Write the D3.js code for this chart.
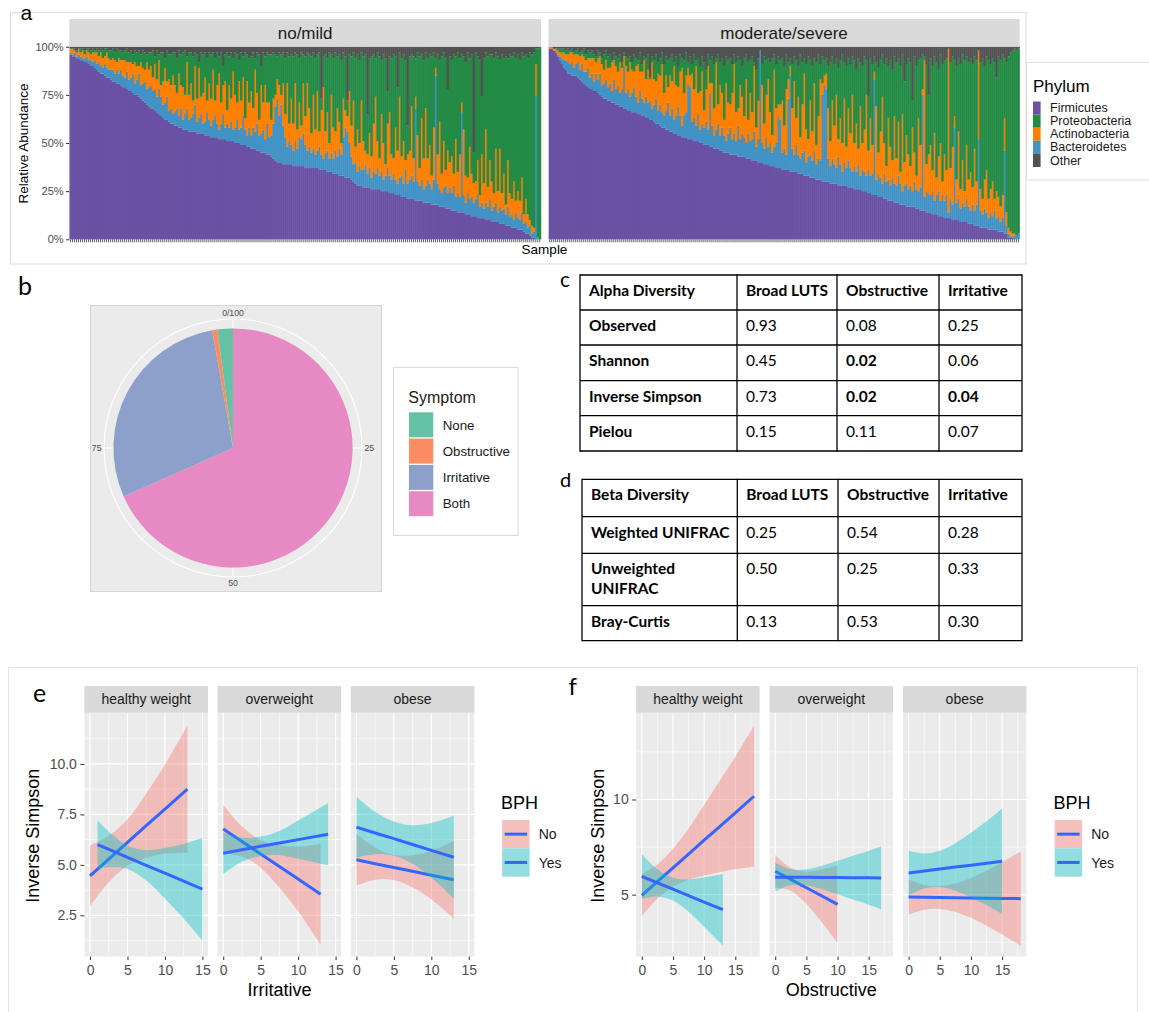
<!DOCTYPE html>
<html>
<head>
<meta charset="utf-8">
<script src="https://cdn.jsdelivr.net/npm/d3@7"></script>
<style>
html,body{margin:0;padding:0;background:#fff;}
svg{display:block;}
</style>
</head>
<body>
<svg id="fig" width="1149" height="1012"></svg>
<script>
// ================= DATA =================
// Panel a: relative abundance per sample (percent), samples ordered as in the figure
const phyla = ["Firmicutes","Proteobacteria","Actinobacteria","Bacteroidetes","Other"];
const phylumColors = ["#6a51a3","#238b45","#ff7f00","#4292c6","#525252"];
const stackOrder = ["Firmicutes","Bacteroidetes","Actinobacteria","Proteobacteria","Other"];
const severityGroups = ["no/mild","moderate/severe"];
const abundanceTicks = [0,0.25,0.5,0.75,1];

const firmicutesNoMild = [96,95,95,94,94,93,93,92,92,91,90,90,89,88,87,86,86,85,84,84,83,82,82,81,81,80,79,79,78,77,77,76,75,75,74,73,72,71,70,69,68,68,67,66,65,64,63,62,62,61,60,60,59,59,58,58,57,57,57,56,56,56,56,55,55,55,55,54,54,54,53,53,53,53,52,52,52,52,51,51,51,51,50,50,50,49,49,49,48,48,47,47,47,46,46,45,45,45,44,44,43,42,41,40,40,40,39,39,39,39,39,38,38,38,38,38,38,37,37,37,37,37,37,37,36,36,36,36,35,35,35,34,34,34,33,33,33,32,32,32,31,30,29,28,28,28,27,27,27,27,26,26,26,26,26,25,25,25,25,24,24,24,23,23,23,22,22,22,21,21,21,21,20,20,20,20,19,19,19,19,18,18,18,18,17,17,17,16,16,16,15,15,15,14,14,14,14,13,13,13,12,12,12,11,11,11,11,10,10,10,9,9,9,9,8,8,8,7,7,7,6,6,6,5,5,5,4,3,3,2,1,1,0,0,0];
const bacteroidetesNoMild = [1,1,2,1,2,2,1,2,3,2,3,2,4,3,5,4,3,6,5,4,5,6,4,7,5,8,6,5,9,6,7,10,6,8,12,7,9,11,8,10,12,9,11,8,13,10,7,9,12,6,8,5,7,9,6,10,5,8,11,6,7,9,14,6,8,10,5,7,12,8,6,9,11,7,5,8,13,6,9,7,10,6,8,12,7,9,15,8,6,10,7,11,9,14,8,10,12,7,16,9,11,18,28,33,24,30,20,14,9,12,10,8,13,9,15,14,17,12,9,11,8,10,7,9,12,8,6,9,11,7,10,8,12,9,14,11,20,26,24,18,12,9,11,7,10,8,9,12,7,10,6,9,8,11,7,10,6,8,12,9,7,10,8,6,9,11,7,14,8,10,12,9,48,10,8,11,7,9,12,10,8,13,67,11,9,7,10,12,8,11,9,13,7,10,8,52,9,6,11,8,10,7,9,12,6,8,5,9,7,11,6,8,10,5,9,7,8,6,10,5,7,4,8,6,5,9,4,6,3,5,2,3,75,1,0];
const actinobacteriaNoMild = [2,3,1,2,3,2,4,2,3,4,3,5,4,6,3,7,5,4,8,6,5,6,7,4,8,5,8,9,5,9,8,5,11,7,4,12,8,6,14,9,10,7,13,9,15,6,12,18,8,16,12,20,14,8,22,12,17,10,24,13,18,7,20,12,26,9,16,23,6,19,14,26,8,20,29,11,15,24,7,22,12,30,17,9,25,14,20,6,28,13,23,10,32,16,8,25,14,28,11,18,8,13,6,10,16,5,22,12,33,9,24,14,30,10,18,7,26,15,35,20,10,28,13,31,8,23,37,11,20,8,30,16,10,25,14,6,20,9,8,27,16,33,8,22,12,36,15,7,10,18,11,25,40,14,9,30,19,6,23,33,13,8,27,17,42,10,22,5,15,15,36,12,6,24,9,32,16,40,11,20,7,27,4,15,35,10,24,8,22,13,19,6,30,11,22,5,34,14,8,27,12,10,9,18,6,25,13,38,10,20,15,7,28,11,30,9,18,5,24,12,8,20,6,14,10,18,5,12,7,3,4,2,16,0,0];
const proteobacteriaNoMild = [0,0,1,1,0,2,1,2,1,2,2,2,1,2,3,2,4,4,2,4,5,5,4,7,4,5,4,5,7,5,6,5,6,7,8,4,9,9,4,9,7,14,4,15,3,17,15,5,16,13,16,12,17,18,12,16,18,23,3,22,16,23,7,23,3,23,20,13,22,16,23,9,22,17,9,26,10,14,30,15,24,7,22,25,11,25,11,34,14,23,18,29,6,21,34,10,26,15,26,25,34,24,21,12,17,21,16,29,16,35,23,35,16,39,23,38,15,31,16,28,40,22,37,19,41,6,16,40,28,47,21,36,41,27,35,43,24,28,8,19,36,25,46,39,43,25,44,50,21,39,52,36,20,46,53,28,46,55,17,29,50,54,37,33,23,51,45,52,15,49,27,53,20,43,58,33,51,29,52,47,62,39,5,52,32,61,46,58,32,55,50,62,43,62,50,25,38,59,65,46,62,16,67,54,70,30,65,40,68,55,66,70,50,70,46,72,60,77,53,72,74,67,74,71,73,65,82,75,81,87,89,91,8,98,100];
const otherNoMild = [1,1,1,2,1,1,1,2,1,1,2,1,2,1,2,1,2,1,1,2,2,1,3,1,2,2,3,2,1,3,2,4,2,3,2,4,2,3,4,3,3,2,5,2,4,3,3,6,2,4,4,3,3,6,2,4,3,2,5,3,3,5,3,4,8,3,4,3,6,3,4,3,6,3,5,3,10,4,3,5,3,6,3,4,7,3,5,3,4,6,5,3,6,3,4,10,3,5,3,4,4,3,4,5,3,4,3,6,3,5,4,5,3,4,6,3,4,5,3,4,5,3,6,4,3,27,5,4,6,3,4,6,3,5,4,7,3,5,28,4,5,3,6,4,7,3,5,4,35,6,5,4,6,3,5,7,4,6,23,5,6,4,5,21,3,6,4,7,41,5,4,5,6,3,5,4,7,3,6,4,5,3,6,4,7,5,3,6,22,5,7,4,5,3,6,4,5,8,3,6,4,55,3,5,7,26,6,3,5,4,4,6,3,5,7,4,6,5,6,4,5,3,6,4,7,3,5,4,6,3,4,3,1,1,0];

const firmicutesModSev = [99,99,98,97,95,93,91,89,88,86,86,85,85,85,84,83,82,81,80,79,78,78,77,77,76,75,74,73,73,72,72,71,71,70,70,69,69,68,68,67,67,66,66,66,65,65,64,64,63,63,62,62,61,60,60,59,58,58,57,57,56,56,55,55,54,54,53,53,53,52,52,52,51,51,51,50,50,49,49,49,48,48,47,47,47,46,46,45,45,45,44,44,44,44,43,43,43,43,42,42,42,41,41,41,40,40,40,39,39,39,38,38,38,37,37,37,36,36,36,36,35,35,35,35,34,34,34,33,33,33,32,32,32,31,31,31,30,30,30,30,29,29,29,29,28,28,28,28,28,27,27,27,26,26,26,26,25,25,25,24,24,23,23,23,22,22,22,21,21,20,20,20,19,19,19,18,18,18,17,17,17,17,17,16,16,15,15,15,14,14,14,13,13,13,12,12,12,11,11,11,11,10,10,10,10,9,9,9,9,8,8,8,7,7,7,6,6,6,6,5,5,5,5,5,4,4,4,3,3,1,1,1,0,0,0];
const bacteroidetesModSev = [0,0,0,1,1,2,3,4,5,6,5,7,4,6,8,5,9,6,7,10,6,8,5,9,7,11,6,8,10,7,9,6,12,8,10,7,9,22,8,11,7,10,13,8,6,12,9,7,11,8,10,6,9,13,7,11,8,6,10,14,8,12,7,9,15,10,6,11,13,29,27,9,12,8,14,7,10,9,12,8,28,11,7,10,13,8,12,9,6,10,14,8,11,7,16,9,12,10,8,13,9,11,15,7,12,58,10,8,14,9,12,7,10,13,27,25,9,11,8,37,50,12,9,14,10,8,11,13,7,10,12,9,14,8,11,10,45,50,48,12,9,13,10,8,15,11,7,12,9,14,10,8,12,9,13,7,11,10,8,12,9,11,60,8,12,10,7,13,9,11,8,12,10,9,14,11,7,10,12,9,11,8,13,10,9,12,60,7,11,10,9,12,7,10,13,8,11,9,12,3,10,8,48,9,11,7,10,8,12,9,7,10,8,11,45,9,7,10,8,6,9,7,10,6,8,5,7,43,4,2,1,0,2,2,3];
const actinobacteriaModSev = [1,1,1,1,2,2,3,4,3,4,6,5,7,5,4,7,5,8,6,5,10,8,12,6,11,9,11,7,10,10,8,15,10,12,7,16,11,5,14,9,18,12,8,16,20,10,14,22,9,17,11,24,13,9,19,15,25,12,18,8,21,14,28,16,10,23,30,12,19,8,6,25,15,31,11,20,27,9,17,33,5,22,14,35,10,26,18,8,30,16,12,24,36,15,9,28,19,11,33,7,25,14,34,10,20,0,30,13,22,35,16,9,40,18,6,8,27,12,34,10,5,21,38,14,30,11,25,40,17,9,28,15,35,10,22,42,6,5,8,26,13,30,20,38,9,24,15,33,11,27,18,40,12,25,8,36,14,22,42,10,30,15,4,38,11,24,45,16,8,32,20,9,35,14,28,6,40,12,25,18,10,33,15,7,38,22,3,71,14,20,26,11,35,9,18,30,7,24,13,85,16,30,6,12,35,10,22,8,28,14,20,9,32,12,46,11,8,15,22,10,12,18,6,14,10,8,12,17,7,3,2,2,1,0,0];
const proteobacteriaModSev = [0,0,0,0,1,2,2,2,2,3,1,2,1,2,3,2,2,4,3,4,3,4,2,3,4,2,3,8,5,6,7,1,4,5,7,4,3,2,5,7,3,4,9,4,2,10,4,2,11,8,1,3,10,14,6,9,6,15,10,14,9,14,2,15,11,9,5,17,12,3,10,5,18,3,18,13,8,25,10,6,12,14,23,2,26,12,18,28,14,22,24,15,5,26,27,13,16,30,13,30,17,29,2,30,22,0,11,35,18,11,26,40,8,23,25,23,22,31,18,9,4,23,13,30,16,43,22,8,34,43,21,34,13,43,32,8,14,8,8,22,41,23,32,19,37,30,46,19,42,26,36,20,43,28,47,23,40,38,18,28,31,42,8,23,44,37,22,41,56,27,45,47,31,50,33,55,31,42,37,50,54,14,50,57,30,45,18,2,52,31,45,54,40,60,45,46,61,49,58,0,55,47,29,59,38,65,55,68,46,61,59,64,48,63,0,66,73,59,59,72,65,64,71,59,73,76,73,31,78,89,93,95,96,96,96];
const otherModSev = [0,0,1,1,1,1,1,1,2,1,2,1,3,2,1,3,2,1,4,2,3,2,4,5,2,3,6,4,2,5,4,7,3,5,6,4,8,3,5,6,5,8,4,6,7,3,9,5,6,4,16,5,7,4,8,6,3,9,5,7,6,4,8,5,10,4,6,7,3,8,5,9,4,7,6,10,5,8,12,4,7,5,9,6,4,8,6,10,5,7,6,9,4,8,5,7,10,6,4,8,7,5,8,12,6,2,9,5,7,6,8,6,4,9,5,7,6,10,4,8,6,9,5,7,10,4,8,6,9,5,7,10,6,8,4,9,5,7,6,10,8,5,9,6,11,7,4,8,10,6,9,5,7,12,6,8,10,5,7,26,6,9,5,8,11,7,4,9,6,10,7,12,5,8,6,10,4,18,9,6,8,28,5,10,7,6,4,5,9,25,6,10,5,8,12,4,9,7,6,1,8,5,7,10,6,9,4,7,5,8,6,9,5,7,2,8,6,10,5,7,9,6,8,16,5,7,4,6,8,5,3,2,1,2,1];

// Panel b: symptom counts
const symptoms = ["None","Obstructive","Irritative","Both"];
const symptomColors = ["#66c2a5","#fc8d62","#8da0cb","#e78ac3"];
const symptomCounts = [9,3,124,294];
const pieOrder = ["Both","Irritative","Obstructive","None"];
const polarTicks = [0,25,50,75];
const polarTickLabels = ["0/100","25","50","75"];
const polarMinorTicks = [12.5,37.5,62.5,87.5];

// Panel c: alpha diversity p-values
const alphaHeader = ["Alpha Diversity","Broad LUTS","Obstructive","Irritative"];
const alphaMetrics = ["Observed","Shannon","Inverse Simpson","Pielou"];
const alphaBroadLUTS = ["0.93","0.45","0.73","0.15"];
const alphaObstructive = ["0.08","0.02","0.02","0.11"];
const alphaIrritative = ["0.25","0.06","0.04","0.07"];

// Panel d: beta diversity p-values
const betaHeader = ["Beta Diversity","Broad LUTS","Obstructive","Irritative"];
const betaMetrics = [["Weighted UNIFRAC"],["Unweighted","UNIFRAC"],["Bray-Curtis"]];
const betaBroadLUTS = ["0.25","0.50","0.13"];
const betaObstructive = ["0.54","0.25","0.53"];
const betaIrritative = ["0.28","0.33","0.30"];

// Panels e, f: linear fits with 95% CI ribbons
const bodyGroups = ["healthy weight","overweight","obese"];
const bphGroups = ["No","Yes"];
const bphColors = ["#F8766D","#00BFC4"];
const irritativeFits = [
 {facet:"healthy weight",bph:"No", x:[0,2.5,5,7.5,10,13], fit:[4.46,5.29,6.11,6.94,7.76,8.75], lower:[2.96,4.14,4.96,5.34,5.56,5.6], upper:[5.96,6.44,7.26,8.54,9.96,11.9]},
 {facet:"healthy weight",bph:"Yes",x:[1,3,5,7.5,10,12.5,15], fit:[6.0,5.69,5.37,4.98,4.59,4.19,3.8], lower:[4.8,4.89,4.79,4.23,3.34,2.34,1.25], upper:[7.2,6.49,5.95,5.73,5.84,6.04,6.35]},
 {facet:"overweight",bph:"No", x:[0,2.5,5,7.5,10,13], fit:[6.78,6.16,5.54,4.92,4.30,3.55], lower:[5.58,5.41,4.86,3.87,2.7,1.05], upper:[7.98,6.91,6.22,5.97,5.9,6.05]},
 {facet:"overweight",bph:"Yes",x:[0,2.5,5,7.5,10,14], fit:[5.58,5.75,5.92,6.08,6.25,6.52], lower:[4.55,5.15,5.44,5.48,5.3,4.97], upper:[6.61,6.35,6.4,6.68,7.2,8.07]},
 {facet:"obese",bph:"No", x:[0,2.5,5,7.5,10,13], fit:[5.25,5.06,4.87,4.68,4.49,4.26], lower:[3.97,4.26,4.25,3.88,3.29,2.34], upper:[6.53,5.86,5.49,5.48,5.69,6.18]},
 {facet:"obese",bph:"Yes",x:[0,2.5,5,7.5,10,13], fit:[6.87,6.58,6.30,6.01,5.72,5.38], lower:[5.36,5.53,5.45,5.06,4.37,3.33], upper:[8.38,7.63,7.15,6.96,7.07,7.43]}
];
const obstructiveFits = [
 {facet:"healthy weight",bph:"No", x:[0,2.5,5,7.5,10,12.5,15,18], fit:[4.96,5.68,6.41,7.13,7.86,8.58,9.30,10.17], lower:[3.86,4.78,5.41,5.78,6.01,6.18,6.35,6.47], upper:[6.06,6.58,7.41,8.48,9.71,10.98,12.25,13.87]},
 {facet:"healthy weight",bph:"Yes",x:[0,2.5,5,7.5,10,13], fit:[5.96,5.62,5.29,4.95,4.61,4.21], lower:[4.78,4.9,4.69,4.1,3.31,2.33], upper:[7.14,6.34,5.89,5.8,5.91,6.09]},
 {facet:"overweight",bph:"No", x:[0,2.5,5,7.5,10], fit:[6.23,5.80,5.36,4.93,4.49], lower:[5.38,5.2,4.51,3.53,2.45], upper:[7.08,6.4,6.21,6.33,6.53]},
 {facet:"overweight",bph:"Yes",x:[0,2.5,5,7.5,10,12.5,15,17], fit:[5.92,5.91,5.91,5.90,5.90,5.89,5.89,5.88], lower:[5.17,5.49,5.49,5.28,5.02,4.74,4.47,4.23], upper:[6.67,6.33,6.33,6.52,6.78,7.04,7.31,7.53]},
 {facet:"obese",bph:"No", x:[0,2.5,5,7.5,10,12.5,15,18], fit:[4.87,4.86,4.85,4.84,4.83,4.81,4.80,4.79], lower:[3.95,4.21,4.25,4.09,3.78,3.36,2.9,2.31], upper:[5.79,5.51,5.45,5.59,5.88,6.26,6.7,7.27]},
 {facet:"obese",bph:"Yes",x:[0,2.5,5,7.5,10,12.5,15], fit:[6.14,6.24,6.35,6.45,6.55,6.65,6.75], lower:[4.96,5.32,5.4,5.2,4.85,4.45,3.97], upper:[7.32,7.16,7.3,7.7,8.25,8.85,9.53]}
];

// ================= DRAWING =================
const GG = '"Liberation Sans", Arial, Helvetica, sans-serif';
const TB = 'Lato, "Open Sans", sans-serif';
const svg = d3.select("#fig");
svg.append("rect").attr("width",1149).attr("height",1012).attr("fill","#fff");

function txt(parent, x, y, s, size, opts={}) {
  const t = parent.append("text").attr("x",x).attr("y",y).text(s)
    .attr("font-size",size).attr("font-family",opts.family||GG)
    .attr("fill",opts.fill||"#000").attr("text-anchor",opts.anchor||"start");
  if (opts.weight) t.attr("font-weight",opts.weight);
  if (opts.transform) t.attr("transform",opts.transform);
  return t;
}

// ---------- Panel a ----------
svg.append("rect").attr("x",10.5).attr("y",12.5).attr("width",1015.5).attr("height",251.5)
  .attr("fill","none").attr("stroke","#dcdcdc");
txt(svg,20.5,19.5,"a",21);

const colorOf = d3.scaleOrdinal(phyla, phylumColors);
const aTop = 46.7, aBot = 239.3;
const yA = d3.scaleLinear([0,1],[aBot,aTop]);
const aFacets = [
  {name:severityGroups[0], x0:69.3, x1:541,
   vals:{Firmicutes:firmicutesNoMild,Proteobacteria:proteobacteriaNoMild,Actinobacteria:actinobacteriaNoMild,Bacteroidetes:bacteroidetesNoMild,Other:otherNoMild}},
  {name:severityGroups[1], x0:548.5, x1:1019.6,
   vals:{Firmicutes:firmicutesModSev,Proteobacteria:proteobacteriaModSev,Actinobacteria:actinobacteriaModSev,Bacteroidetes:bacteroidetesModSev,Other:otherModSev}}
];
aFacets.forEach((f,fi)=>{
  const n = f.vals.Firmicutes.length;
  const samples = d3.range(n).map(i=>f.name+" "+(i+1));
  const rows = samples.map((s,i)=>{const r={sample:s}; phyla.forEach(p=>r[p]=f.vals[p][i]); return r;});
  const x = d3.scaleBand(samples,[f.x0,f.x1]).paddingInner(0).paddingOuter(0.1);
  const series = d3.stack().keys(stackOrder).offset(d3.stackOffsetExpand)(rows);
  const g = svg.append("g");
  g.append("rect").attr("x",f.x0).attr("y",aTop).attr("width",f.x1-f.x0).attr("height",aBot-aTop).attr("fill","#ebebeb");
  series.forEach(s=>{
    g.append("g").attr("fill",colorOf(s.key)).selectAll("rect").data(s).join("rect")
      .attr("x",d=>x(d.data.sample)).attr("width",x.bandwidth()+0.45)
      .attr("y",d=>yA(d[1])).attr("height",d=>Math.max(0,yA(d[0])-yA(d[1])));
  });
  g.append("rect").attr("x",f.x0).attr("y",19).attr("width",f.x1-f.x0).attr("height",aTop-19).attr("fill","#d9d9d9");
  txt(g,(f.x0+f.x1)/2,38.5,f.name,17,{anchor:"middle",fill:"#1a1a1a"});
  const ax = g.append("g").attr("transform",`translate(0,${aBot})`).call(d3.axisBottom(x).tickSize(3).tickFormat(""));
  ax.select(".domain").remove();
  ax.selectAll("line").attr("stroke","#333").attr("stroke-width",0.8);
  if (fi===0) {
    const ay = svg.append("g").attr("transform",`translate(${f.x0},0)`)
      .call(d3.axisLeft(yA).tickValues(abundanceTicks).tickFormat(d3.format(".0%")).tickSize(3.3).tickPadding(2.4));
    ay.attr("font-family",GG).attr("font-size",11);
    ay.select(".domain").remove();
    ay.selectAll("line").attr("stroke","#333");
    ay.selectAll("text").attr("fill","#4d4d4d");
  }
});
txt(svg,0,0,"Relative Abundance",13.5,{anchor:"middle",transform:"translate(28,143.5) rotate(-90)"});
txt(svg,544.5,254,"Sample",13.5,{anchor:"middle"});

// legend a
const lgA = svg.append("g");
lgA.append("rect").attr("x",1026.5).attr("y",62.5).attr("width",140).attr("height",117.5).attr("fill","#fff").attr("stroke","#dcdcdc");
txt(lgA,1033,91.5,"Phylum",17);
phyla.forEach((p,i)=>{
  const yk = 101.5 + i*13.1;
  lgA.append("rect").attr("x",1033).attr("y",yk).attr("width",7.6).attr("height",13.1).attr("fill",colorOf(p));
  txt(lgA,1050,yk+10.6,p,12.5,{fill:"#1a1a1a"});
});

// ---------- Panel b ----------
txt(svg,18,295,"b",25,{family:TB});
const cx = 233, cy = 448, pieR = 119.6, gridR = 129;
const bg = svg.append("g");
bg.append("rect").attr("x",90.5).attr("y",305.5).attr("width",291).attr("height",286).attr("fill","#ebebeb").attr("stroke","#d4d4d4");
const theta = d3.scaleLinear([0,100],[0,2*Math.PI]);
polarMinorTicks.forEach(v=>{
  const a = theta(v);
  bg.append("line").attr("x1",cx).attr("y1",cy).attr("x2",cx+gridR*Math.sin(a)).attr("y2",cy-gridR*Math.cos(a)).attr("stroke","#fff").attr("stroke-width",0.6);
});
polarTicks.forEach(v=>{
  const a = theta(v);
  bg.append("line").attr("x1",cx).attr("y1",cy).attr("x2",cx+gridR*Math.sin(a)).attr("y2",cy-gridR*Math.cos(a)).attr("stroke","#fff").attr("stroke-width",1.1);
});
bg.append("circle").attr("cx",cx).attr("cy",cy).attr("r",gridR).attr("fill","none").attr("stroke","#fff").attr("stroke-width",1.1);
const symColor = d3.scaleOrdinal(symptoms, symptomColors);
const pieData = pieOrder.map(s=>({symptom:s, count:symptomCounts[symptoms.indexOf(s)]}));
const arcs = d3.pie().sort(null).value(d=>d.count)(pieData);
const arcGen = d3.arc().innerRadius(0).outerRadius(pieR);
bg.append("g").attr("transform",`translate(${cx},${cy})`).selectAll("path").data(arcs).join("path")
  .attr("d",arcGen).attr("fill",d=>symColor(d.data.symptom));
polarTicks.forEach((v,i)=>{
  const a = theta(v), r = 131.5;
  const s = Math.sin(a), c = Math.cos(a);
  const anchor = s>0.1?"start":(s<-0.1?"end":"middle");
  const t = txt(bg,cx+r*s,cy-r*c,polarTickLabels[i],8.7,{anchor:anchor,fill:"#4d4d4d"});
  t.attr("dy", c>0.1?"-0.05em":(c<-0.1?"0.78em":"0.35em"));
});
// legend b
const lgB = svg.append("g");
lgB.append("rect").attr("x",393.5).attr("y",367.5).attr("width",124.5).attr("height",168).attr("fill","#fff").attr("stroke","#d9d9d9");
txt(lgB,408.3,402.5,"Symptom",16,{fill:"#1a1a1a"});
symptoms.forEach((s,i)=>{
  const yk = 412.3 + i*26.3;
  lgB.append("rect").attr("x",409).attr("y",yk).attr("width",24.3).attr("height",25).attr("fill",symColor(s));
  txt(lgB,442.7,yk+17.2,s,13.3,{fill:"#1a1a1a"});
});

// ---------- Tables c, d ----------
function drawTable(colX,rowY,header,rowLabels,cols){
  const g = svg.append("g");
  const lw = 1.3;
  rowY.forEach(y=>g.append("line").attr("x1",colX[0]).attr("x2",colX[colX.length-1]).attr("y1",y).attr("y2",y).attr("stroke","#000").attr("stroke-width",lw));
  colX.forEach(x=>g.append("line").attr("x1",x).attr("x2",x).attr("y1",rowY[0]-lw/2).attr("y2",rowY[rowY.length-1]+lw/2).attr("stroke","#000").attr("stroke-width",lw));
  header.forEach((h,j)=>txt(g,colX[j]+9,rowY[0]+21,h,15.5,{family:TB,weight:"bold"}));
  rowLabels.forEach((lines,i)=>{
    lines.forEach((ln,k)=>txt(g,colX[0]+9,rowY[i+1]+21+k*19.5,ln,15.5,{family:TB,weight:"bold"}));
    cols.forEach((col,j)=>{
      const v = col[i];
      txt(g,colX[j+1]+9,rowY[i+1]+21,v,15.5,{family:TB,weight:(+v<0.05?"bold":"normal")});
    });
  });
}
txt(svg,560,286.7,"c",21,{family:TB});
drawTable([580,737,837,939,1022],[275,310,345,380.7,415.7,451],alphaHeader,alphaMetrics.map(m=>[m]),[alphaBroadLUTS,alphaObstructive,alphaIrritative]);
txt(svg,560,486.7,"d",20,{family:TB});
drawTable([582,737.3,838,939,1022],[479.3,516.7,553.3,605.7,640.7],betaHeader,betaMetrics,[betaBroadLUTS,betaObstructive,betaIrritative]);

// ---------- Panels e, f ----------
svg.append("rect").attr("x",8.5).attr("y",667.5).attr("width",1129).attr("height",400).attr("fill","none").attr("stroke","#e3e3e3");
txt(svg,33,701.7,"e",25,{family:TB});
txt(svg,568.5,695,"f",24,{family:TB});

const regTop = 712.7, regBot = 956.5, stripTop = 686;
function drawReg(cfg){
  const yS = d3.scaleLinear(cfg.yDomain,[regBot,regTop]);
  bodyGroups.forEach((fac,fi)=>{
    const x0 = cfg.facetX[fi], x1 = x0 + cfg.facetW;
    const xS = d3.scaleLinear(cfg.xDomain,[x0,x1]);
    const g = svg.append("g");
    g.append("rect").attr("x",x0).attr("y",regTop).attr("width",cfg.facetW).attr("height",regBot-regTop).attr("fill","#ebebeb");
    cfg.yMinor.forEach(v=>g.append("line").attr("x1",x0).attr("x2",x1).attr("y1",yS(v)).attr("y2",yS(v)).attr("stroke","#fff").attr("stroke-width",0.6));
    cfg.xMinor.forEach(v=>g.append("line").attr("y1",regTop).attr("y2",regBot).attr("x1",xS(v)).attr("x2",xS(v)).attr("stroke","#fff").attr("stroke-width",0.6));
    cfg.yMajor.forEach(v=>g.append("line").attr("x1",x0).attr("x2",x1).attr("y1",yS(v)).attr("y2",yS(v)).attr("stroke","#fff").attr("stroke-width",1.2));
    cfg.xMajor.forEach(v=>g.append("line").attr("y1",regTop).attr("y2",regBot).attr("x1",xS(v)).attr("x2",xS(v)).attr("stroke","#fff").attr("stroke-width",1.2));
    g.append("rect").attr("x",x0).attr("y",stripTop).attr("width",cfg.facetW).attr("height",regTop-stripTop).attr("fill","#d9d9d9");
    txt(g,(x0+x1)/2,703.5,fac,14,{anchor:"middle",fill:"#1a1a1a"});
    bphGroups.forEach((b,bi)=>{
      const d = cfg.fits.find(r=>r.facet===fac && r.bph===b);
      const pts = d.x.map((xv,i)=>({x:xv,fit:d.fit[i],lo:d.lower[i],hi:d.upper[i]}));
      g.append("path").datum(pts)
        .attr("d",d3.area().x(p=>xS(p.x)).y0(p=>yS(p.lo)).y1(p=>yS(p.hi)).curve(d3.curveCatmullRom.alpha(0.5)))
        .attr("fill",bphColors[bi]).attr("fill-opacity",0.4);
      g.append("path").datum(pts)
        .attr("d",d3.line().x(p=>xS(p.x)).y(p=>yS(p.fit)))
        .attr("fill","none").attr("stroke","#3366FF").attr("stroke-width",3);
    });
    const ax = g.append("g").attr("transform",`translate(0,${regBot})`)
      .call(d3.axisBottom(xS).tickValues(cfg.xMajor).tickFormat(d3.format("d")).tickSize(3.5).tickPadding(5));
    ax.attr("font-family",GG).attr("font-size",14);
    ax.select(".domain").remove();
    ax.selectAll("line").attr("stroke","#333");
    ax.selectAll("text").attr("fill","#4d4d4d");
  });
  const ay = svg.append("g").attr("transform",`translate(${cfg.facetX[0]},0)`)
    .call(d3.axisLeft(yS).tickValues(cfg.yMajor).tickFormat(d3.format(cfg.yFormat)).tickSize(4).tickPadding(3.5));
  ay.attr("font-family",GG).attr("font-size",14);
  ay.select(".domain").remove();
  ay.selectAll("line").attr("stroke","#333");
  ay.selectAll("text").attr("fill","#4d4d4d");
  const xl = cfg.facetX[0], xr = cfg.facetX[2]+cfg.facetW;
  txt(svg,(xl+xr)/2,996,cfg.xTitle,18,{anchor:"middle"});
  txt(svg,0,0,"Inverse Simpson",18,{anchor:"middle",transform:`translate(${cfg.yTitleX},835.8) rotate(-90)`});
  // legend
  const lg = svg.append("g");
  txt(lg,cfg.legendX,809,"BPH",18);
  bphGroups.forEach((b,i)=>{
    const kx = cfg.legendX+1.2, ky = 820 + i*28.3;
    lg.append("rect").attr("x",kx).attr("y",ky).attr("width",27.4).attr("height",28.3).attr("fill","#f2f2f2");
    lg.append("rect").attr("x",kx).attr("y",ky).attr("width",27.4).attr("height",28.3).attr("fill",bphColors[i]).attr("fill-opacity",0.4);
    lg.append("line").attr("x1",kx+2.5).attr("x2",kx+24.9).attr("y1",ky+14.15).attr("y2",ky+14.15).attr("stroke","#3366FF").attr("stroke-width",3);
    txt(lg,kx+36.5,ky+19.2,b,14,{fill:"#1a1a1a"});
  });
}
drawReg({facetX:[84.4,217.6,350.8], facetW:123.6, xDomain:[-0.75,15.75], yDomain:[0.46,12.54],
  xMajor:[0,5,10,15], xMinor:[2.5,7.5,12.5], yMajor:[2.5,5,7.5,10], yMinor:[1.25,3.75,6.25,8.75,11.25],
  yFormat:".1f", fits:irritativeFits, xTitle:"Irritative", yTitleX:38.5, legendX:501});
drawReg({facetX:[636.2,769.6,903.0], facetW:123.4, xDomain:[-0.9,18.9], yDomain:[1.75,14.56],
  xMajor:[0,5,10,15], xMinor:[2.5,7.5,12.5,17.5], yMajor:[5,10], yMinor:[2.5,7.5,12.5],
  yFormat:"d", fits:obstructiveFits, xTitle:"Obstructive", yTitleX:604, legendX:1053.5});
</script>
</body>
</html>
